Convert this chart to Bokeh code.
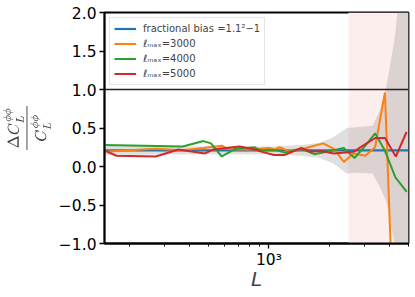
from bokeh.plotting import figure
from bokeh.models import Range1d, FixedTicker, BoxAnnotation, Span, Legend, LegendItem
from bokeh.embed import file_html
from bokeh.resources import INLINE

# ---- data ----
L_bias = [150, 5000]
bias = [0.21, 0.21]

L_3000 = [150, 270, 370, 470, 540, 580, 620, 700, 820, 1000, 1070, 1130, 1230, 1450,
          1630, 1870, 2115, 2370, 2650, 3040, 3400, 3810, 4300, 4900]
v_3000 = [0.19, 0.23, 0.21, 0.24, 0.26, 0.27, 0.23, 0.22, 0.22, 0.24, 0.22, 0.25, 0.21, 0.22,
          0.26, 0.30, 0.23, 0.06, 0.17, 0.14, 0.25, 0.96, -2.7, -3.5]

L_4000 = [150, 370, 470, 512, 580, 680, 850, 903, 1095, 1200, 1454, 1685, 2115, 2368,
          2683, 3040, 3404, 3800, 4300, 4900]
v_4000 = [0.28, 0.26, 0.33, 0.30, 0.13, 0.23, 0.25, 0.21, 0.21, 0.18, 0.23, 0.16, 0.21, 0.24,
          0.11, 0.27, 0.43, 0.21, -0.14, -0.33]

L_5000 = [150, 172, 271, 352, 478, 524, 711, 853, 924, 1058, 1199, 1454, 1629, 1824, 2115,
          2652, 3040, 3404, 3812, 4318, 4893]
v_5000 = [0.21, 0.14, 0.13, 0.22, 0.17, 0.22, 0.26, 0.22, 0.19, 0.15, 0.15, 0.24, 0.19, 0.20, 0.17,
          0.19, 0.29, 0.37, 0.37, 0.13, 0.45]

L_band = [150, 500, 1000, 1450, 1800, 2100, 2450, 2750, 3300, 3600, 3900, 4250, 4400, 4550, 5000]
band_hi = [0.27, 0.26, 0.26, 0.28, 0.31, 0.38, 0.50, 0.51, 0.53, 0.73, 1.08, 1.64, 2.0, 2.7, 4.2]
band_lo = [0.15, 0.16, 0.16, 0.14, 0.11, 0.04, -0.09, -0.08, -0.09, -0.27, -0.48, -1.0, -1.4, -2.1, -3.6]

span_start = 2500
y_ticks = [-1.0, -0.5, 0.0, 0.5, 1.0, 1.5, 2.0]
y_tick_labels = ["\u22121.0", "\u22120.5", "0.0", "0.5", "1.0", "1.5", "2.0"]
x_ticks = [1000]
x_tick_labels = ["10\u00b3"]
x_minor = [200, 300, 400, 500, 600, 700, 800, 900, 2000, 3000, 4000, 5000]

labels = ["fractional bias =1.1\u00b2\u22121", "\u2113\u2098\u2090\u2093=3000",
          "\u2113\u2098\u2090\u2093=4000", "\u2113\u2098\u2090\u2093=5000"]
colors = ["#1f77b4", "#ff7f0e", "#2ca02c", "#d62728"]

FONT = "DejaVu Sans"

p = figure(width=415, height=297, x_axis_type="log",
           x_range=Range1d(150, 5000), y_range=Range1d(-1, 2),
           output_backend="svg", toolbar_location=None,
           min_border_left=99, min_border_right=7, min_border_top=12, min_border_bottom=54)

p.grid.visible = False
p.outline_line_color = "black"
p.outline_line_width = 1.8

p.add_layout(BoxAnnotation(left=span_start, fill_color="#fdeeee", fill_alpha=1.0,
                           line_color=None, level="underlay"))

p.varea(x=L_band, y1=band_lo, y2=band_hi, fill_color="gray", fill_alpha=0.25)

r0 = p.line(L_bias, bias, line_color=colors[0], line_width=2.2)
r1 = p.line(L_3000, v_3000, line_color=colors[1], line_width=2)
r2 = p.line(L_4000, v_4000, line_color=colors[2], line_width=2)
r3 = p.line(L_5000, v_5000, line_color=colors[3], line_width=2)

p.add_layout(Span(location=1.0, dimension="width", line_color="#222222", line_width=1.6))

legend = Legend(items=[LegendItem(label=labels[i], renderers=[r]) for i, r in enumerate([r0, r1, r2, r3])],
                location="top_left", margin=5, padding=4, spacing=2,
                glyph_width=22, glyph_height=13, label_height=13, label_standoff=7,
                label_text_font=FONT, label_text_font_size="10px",
                border_line_color="#cccccc", border_line_width=1,
                background_fill_alpha=0.8)
p.add_layout(legend, "center")

for ax in (p.xaxis[0], p.yaxis[0]):
    ax.axis_line_width = 1.8
    ax.major_tick_line_width = 1.3
    ax.minor_tick_line_width = 1.0
    ax.major_tick_in = 0
    ax.major_tick_out = 5
    ax.minor_tick_in = 0
    ax.minor_tick_out = 3
    ax.major_label_text_font = FONT
    ax.major_label_text_font_size = "15.5px"
    ax.major_label_text_color = "black"
    ax.axis_label_text_font = FONT
    ax.axis_label_text_font_style = "normal"

p.xaxis.ticker = FixedTicker(ticks=x_ticks, minor_ticks=x_minor)
p.xaxis.major_label_overrides = {t: s for t, s in zip(x_ticks, x_tick_labels)}
p.xaxis.axis_label = "L"
p.xaxis.axis_label_text_font_style = "italic"
p.xaxis.axis_label_text_font_size = "20px"
p.xaxis.axis_label_standoff = -5
p.xaxis.major_label_standoff = 2

p.yaxis.ticker = FixedTicker(ticks=y_ticks, minor_ticks=[])
p.yaxis.major_label_overrides = {t: s for t, s in zip(y_ticks, y_tick_labels)}
p.yaxis.axis_label = r"$$\frac{\Delta C_L^{\phi\phi}}{C_L^{\phi\phi}}$$"
p.yaxis.axis_label_text_font_size = "13px"
p.yaxis.axis_label_standoff = 5
p.yaxis.major_label_standoff = 3

open("out.html", "w").write(file_html(p, INLINE))
